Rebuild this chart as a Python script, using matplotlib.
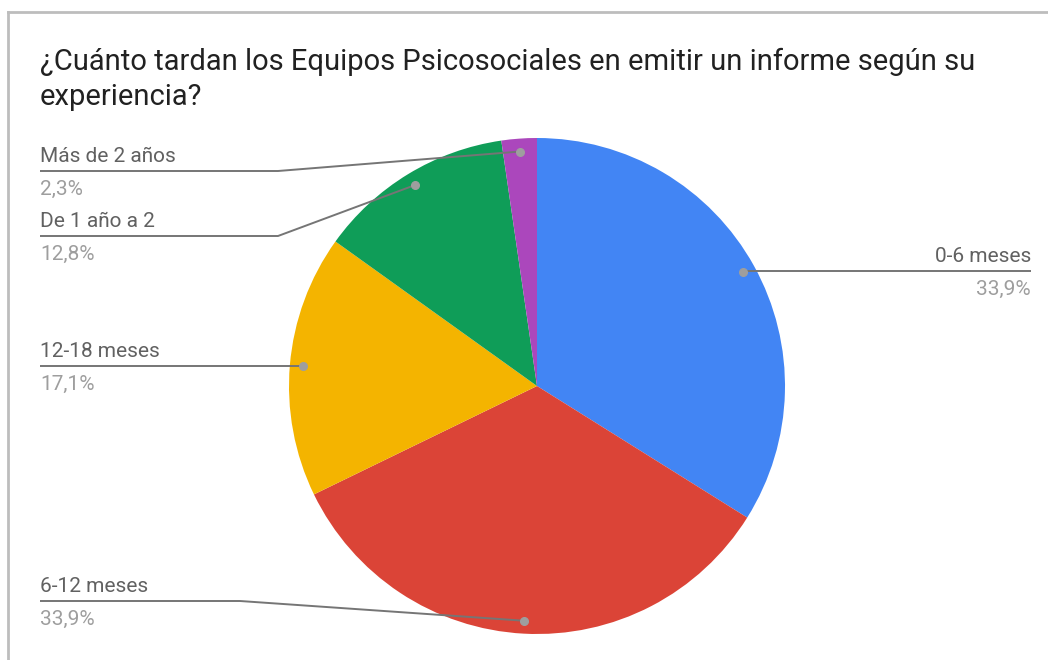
import numpy as np
import matplotlib
matplotlib.use("Agg")
import matplotlib.pyplot as plt

# datos
categorias = ["0-6 meses", "6-12 meses", "12-18 meses", "De 1 año a 2", "Más de 2 años"]
porcentajes = [33.9, 33.9, 17.1, 12.8, 2.3]
etiquetas_pct = ["33,9%", "33,9%", "17,1%", "12,8%", "2,3%"]
colores = ["#4285F4", "#DB4437", "#F4B400", "#0F9D58", "#AB47BC"]

titulo = "¿Cuánto tardan los Equipos Psicosociales en emitir un informe según su\nexperiencia?"

plt.rcParams['font.family'] = ['Roboto', 'DejaVu Sans']

W, H = 1048, 660
fig = plt.figure(figsize=(W / 100, H / 100), dpi=100)
ax = fig.add_axes([0, 0, 1, 1])

# coordenadas en pixeles de la imagen (y hacia abajo)
def py(y):
    return H - y

cx, cy, R = 537, 386, 248
ax.pie(porcentajes, colors=colores, startangle=90, counterclock=False,
       center=(cx, py(cy)), radius=R, wedgeprops=dict(linewidth=0))

ax.set_xlim(0, W)
ax.set_ylim(0, H)
ax.set_aspect('equal')
ax.axis('off')

# puntos de las guias (a lo largo del angulo medio de cada porcion)
frac = np.array(porcentajes) / sum(porcentajes)
medio = np.cumsum(frac) - frac / 2
ang = np.deg2rad(90 - medio * 360)
px = cx + 0.948 * R * np.cos(ang)
pyy = py(cy) + 0.948 * R * np.sin(ang)

# posicion de etiquetas: (x texto, y linea, x codo, alineacion)
pos = {
    "0-6 meses": (1031, 271, None, 'right'),
    "6-12 meses": (40, 601, 240, 'left'),
    "12-18 meses": (40, 366, None, 'left'),
    "De 1 año a 2": (40, 236, 278, 'left'),
    "Más de 2 años": (40, 171, 278, 'left'),
}

gris_linea = "#757575"
for i, cat in enumerate(categorias):
    tx, ly, codo, ha = pos[cat]
    dx, dy = px[i], pyy[i]
    if codo is None:
        xs = [tx, dx]
        ys = [py(ly), py(ly)]
    else:
        xs = [tx, codo, dx]
        ys = [py(ly), py(ly), dy]
    ax.plot(xs, ys, color=gris_linea, lw=1.4, solid_capstyle='butt', zorder=3)
    ax.plot(dx, dy, 'o', color="#9e9e9e", ms=5.5, zorder=4)
    ax.text(tx, py(ly) + 5, cat, ha=ha, va='bottom', fontsize=15, color="#616161")
    ax.text(tx, py(ly) - 9, etiquetas_pct[i], ha=ha, va='top', fontsize=15, color="#9e9e9e")

ax.text(40, py(48), titulo, ha='left', va='top', fontsize=21, color="#212121",
        linespacing=1.32)

# marco
ax.plot([8, 8], [0, py(12)], color="#bdbdbd", lw=2)
ax.plot([8, W], [py(12), py(12)], color="#bdbdbd", lw=2)

fig.savefig("out.png", dpi=100, facecolor="white")
